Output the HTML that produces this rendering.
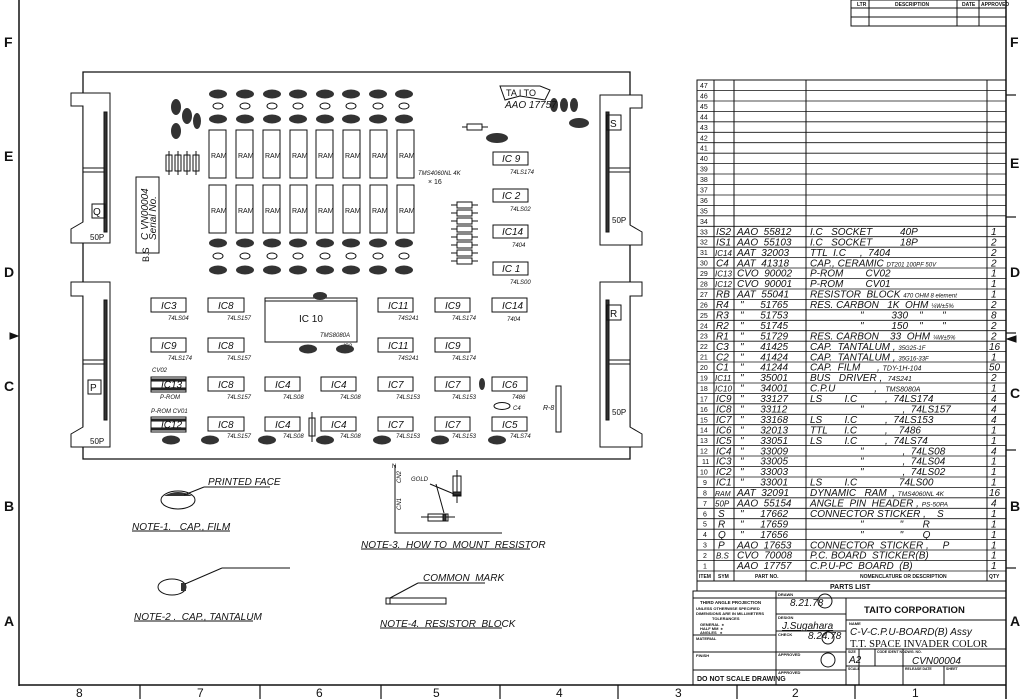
<!DOCTYPE html>
<html><head><meta charset="utf-8"><style>
html,body{margin:0;padding:0;background:#fff;}
svg{display:block;}
text{font-family:"Liberation Sans",sans-serif;fill:#111;white-space:pre;}
.h{font-style:italic;font-size:10px;}
.s{font-size:6px;font-style:italic;}
.b{font-weight:bold;}
</style></head><body>
<svg width="1024" height="699" viewBox="0 0 1024 699" xmlns="http://www.w3.org/2000/svg" stroke="#111" fill="none" stroke-width="1">
<line x1="19" y1="0" x2="19" y2="686" stroke-width="1.5"/>
<line x1="1006" y1="0" x2="1006" y2="699" stroke-width="1.5"/>
<line x1="19" y1="685" x2="1006" y2="685" stroke-width="1.5"/>
<g stroke="none">
<text x="4" y="47" class="b" font-size="14">F</text>
<text x="4" y="161" class="b" font-size="14">E</text>
<text x="4" y="277" class="b" font-size="14">D</text>
<text x="4" y="391" class="b" font-size="14">C</text>
<text x="4" y="511" class="b" font-size="14">B</text>
<text x="4" y="626" class="b" font-size="14">A</text>
<text x="1010" y="47" class="b" font-size="14">F</text>
<text x="1010" y="168" class="b" font-size="14">E</text>
<text x="1010" y="277" class="b" font-size="14">D</text>
<text x="1010" y="398" class="b" font-size="14">C</text>
<text x="1010" y="511" class="b" font-size="14">B</text>
<text x="1010" y="626" class="b" font-size="14">A</text>
<text x="76" y="697" font-size="12">8</text>
<text x="197" y="697" font-size="12">7</text>
<text x="316" y="697" font-size="12">6</text>
<text x="433" y="697" font-size="12">5</text>
<text x="556" y="697" font-size="12">4</text>
<text x="675" y="697" font-size="12">3</text>
<text x="792" y="697" font-size="12">2</text>
<text x="912" y="697" font-size="12">1</text>
</g>
<g stroke-width="1.2">
<line x1="140" y1="685" x2="140" y2="699"/><line x1="260" y1="685" x2="260" y2="699"/><line x1="381" y1="685" x2="381" y2="699"/><line x1="500" y1="685" x2="500" y2="699"/><line x1="618" y1="685" x2="618" y2="699"/><line x1="737" y1="685" x2="737" y2="699"/><line x1="855" y1="685" x2="855" y2="699"/>
<line x1="1006" y1="95" x2="1016" y2="95"/><line x1="1006" y1="217" x2="1016" y2="217"/><line x1="1006" y1="333" x2="1016" y2="333"/><line x1="1006" y1="450" x2="1016" y2="450"/><line x1="1006" y1="568" x2="1016" y2="568"/>
</g>
<path d="M10 333 L18 336 L10 339 Z" fill="#111"/>
<path d="M1016 336 L1007 339 L1016 342 Z" fill="#111"/>
<rect x="851" y="0" width="155" height="26"/>
<line x1="851" y1="8" x2="1006" y2="8"/><line x1="851" y1="17" x2="1006" y2="17"/>
<line x1="869" y1="0" x2="869" y2="26"/><line x1="957" y1="0" x2="957" y2="26"/><line x1="979" y1="0" x2="979" y2="26"/>
<g stroke="none" font-size="5" class="b"><text x="857" y="6">LTR</text><text x="895" y="6">DESCRIPTION</text><text x="962" y="6">DATE</text><text x="981" y="6">APPROVED</text></g>

<path d="M83 72 L630 72 L630 459 L83 459 Z" stroke-width="1.3"/>
<g fill="#fff">
<path d="M71 93 L110 93 L110 243 L71 243 L71 229 L83 222 L83 106 L71 106 Z"/>
<path d="M71 282 L110 282 L110 447 L71 447 L71 434 L83 427 L83 296 L71 296 Z"/>
<path d="M642 95 L600 95 L600 245 L642 245 L642 232 L630 225 L630 108 L642 108 Z"/>
<path d="M642 282 L600 282 L600 447 L642 447 L642 434 L630 427 L630 296 L642 296 Z"/>
</g>
<rect x="104" y="112" width="3" height="120" fill="#333"/><rect x="104" y="300" width="3" height="120" fill="#333"/>
<rect x="606" y="112" width="3" height="120" fill="#333"/><rect x="606" y="300" width="3" height="120" fill="#333"/>
<line x1="83" y1="168" x2="104" y2="168"/><line x1="83" y1="172" x2="104" y2="172"/>
<line x1="83" y1="360" x2="104" y2="360"/><line x1="83" y1="364" x2="104" y2="364"/>
<line x1="609" y1="168" x2="630" y2="168"/><line x1="609" y1="172" x2="630" y2="172"/>
<line x1="609" y1="360" x2="630" y2="360"/><line x1="609" y1="364" x2="630" y2="364"/>
<rect x="92" y="204" width="13" height="14"/><rect x="88" y="380" width="13" height="14"/>
<rect x="607" y="115" width="14" height="15"/><rect x="607" y="305" width="14" height="15"/>
<g stroke="none" font-size="10"><text x="93" y="215">Q</text><text x="90" y="391">P</text><text x="610" y="127">S</text><text x="610" y="317">R</text>
<text x="90" y="240" font-size="8">50P</text><text x="90" y="444" font-size="8">50P</text><text x="612" y="223" font-size="8">50P</text><text x="612" y="415" font-size="8">50P</text></g>

<rect x="136" y="177" width="23" height="76"/>
<g stroke="none"><text transform="translate(148 240) rotate(-90)" class="h" font-size="8">C VN00004</text>
<text transform="translate(156 240) rotate(-90)" class="h" font-size="7">Serial No.</text>
<text transform="translate(149 262) rotate(-90)" font-size="9">B.S</text></g>
<g><rect x="166" y="155" width="6" height="16"/><rect x="175" y="155" width="6" height="16"/><rect x="184" y="155" width="6" height="16"/><rect x="193" y="155" width="6" height="16"/>
<line x1="169" y1="151" x2="169" y2="175"/><line x1="178" y1="151" x2="178" y2="175"/><line x1="187" y1="151" x2="187" y2="175"/><line x1="196" y1="151" x2="196" y2="175"/></g>
<g fill="#333" stroke="none">
<ellipse cx="176" cy="107" rx="5" ry="8"/><ellipse cx="187" cy="116" rx="5" ry="8"/><ellipse cx="197" cy="121" rx="4" ry="8"/><ellipse cx="176" cy="131" rx="5" ry="8"/>
<ellipse cx="554" cy="105" rx="4" ry="7"/><ellipse cx="564" cy="105" rx="4" ry="7"/><ellipse cx="574" cy="105" rx="4" ry="7"/>
<ellipse cx="579" cy="123" rx="10" ry="5"/><ellipse cx="497" cy="138" rx="11" ry="5"/>
</g>
<g fill="#fff">
<rect x="209" y="130" width="17" height="48"/><rect x="236" y="130" width="17" height="48"/><rect x="263" y="130" width="17" height="48"/><rect x="290" y="130" width="17" height="48"/><rect x="316" y="130" width="17" height="48"/><rect x="343" y="130" width="17" height="48"/><rect x="370" y="130" width="17" height="48"/><rect x="397" y="130" width="17" height="48"/>
<rect x="209" y="185" width="17" height="48"/><rect x="236" y="185" width="17" height="48"/><rect x="263" y="185" width="17" height="48"/><rect x="290" y="185" width="17" height="48"/><rect x="316" y="185" width="17" height="48"/><rect x="343" y="185" width="17" height="48"/><rect x="370" y="185" width="17" height="48"/><rect x="397" y="185" width="17" height="48"/>
</g>
<g stroke="none" font-size="7"><text x="211" y="158">RAM</text><text x="238" y="158">RAM</text><text x="265" y="158">RAM</text><text x="292" y="158">RAM</text><text x="318" y="158">RAM</text><text x="345" y="158">RAM</text><text x="372" y="158">RAM</text><text x="399" y="158">RAM</text>
<text x="211" y="213">RAM</text><text x="238" y="213">RAM</text><text x="265" y="213">RAM</text><text x="292" y="213">RAM</text><text x="318" y="213">RAM</text><text x="345" y="213">RAM</text><text x="372" y="213">RAM</text><text x="399" y="213">RAM</text>
<text x="418" y="175" class="s" font-size="7">TMS4060NL 4K</text><text x="428" y="184" font-size="7">× 16</text></g>
<g fill="#333" stroke="none">
<ellipse cx="218" cy="94" rx="9" ry="4.5"/><ellipse cx="245" cy="94" rx="9" ry="4.5"/><ellipse cx="272" cy="94" rx="9" ry="4.5"/><ellipse cx="298" cy="94" rx="9" ry="4.5"/><ellipse cx="325" cy="94" rx="9" ry="4.5"/><ellipse cx="351" cy="94" rx="9" ry="4.5"/><ellipse cx="378" cy="94" rx="9" ry="4.5"/><ellipse cx="404" cy="94" rx="9" ry="4.5"/>
<ellipse cx="218" cy="119" rx="9" ry="4.5"/><ellipse cx="245" cy="119" rx="9" ry="4.5"/><ellipse cx="272" cy="119" rx="9" ry="4.5"/><ellipse cx="298" cy="119" rx="9" ry="4.5"/><ellipse cx="325" cy="119" rx="9" ry="4.5"/><ellipse cx="351" cy="119" rx="9" ry="4.5"/><ellipse cx="378" cy="119" rx="9" ry="4.5"/><ellipse cx="404" cy="119" rx="9" ry="4.5"/>
<ellipse cx="218" cy="243" rx="9" ry="4.5"/><ellipse cx="245" cy="243" rx="9" ry="4.5"/><ellipse cx="272" cy="243" rx="9" ry="4.5"/><ellipse cx="298" cy="243" rx="9" ry="4.5"/><ellipse cx="325" cy="243" rx="9" ry="4.5"/><ellipse cx="351" cy="243" rx="9" ry="4.5"/><ellipse cx="378" cy="243" rx="9" ry="4.5"/><ellipse cx="404" cy="243" rx="9" ry="4.5"/>
<ellipse cx="218" cy="270" rx="9" ry="4.5"/><ellipse cx="245" cy="270" rx="9" ry="4.5"/><ellipse cx="272" cy="270" rx="9" ry="4.5"/><ellipse cx="298" cy="270" rx="9" ry="4.5"/><ellipse cx="325" cy="270" rx="9" ry="4.5"/><ellipse cx="351" cy="270" rx="9" ry="4.5"/><ellipse cx="378" cy="270" rx="9" ry="4.5"/><ellipse cx="404" cy="270" rx="9" ry="4.5"/>
</g>
<g>
<ellipse cx="218" cy="106" rx="5" ry="3"/><ellipse cx="245" cy="106" rx="5" ry="3"/><ellipse cx="272" cy="106" rx="5" ry="3"/><ellipse cx="298" cy="106" rx="5" ry="3"/><ellipse cx="325" cy="106" rx="5" ry="3"/><ellipse cx="351" cy="106" rx="5" ry="3"/><ellipse cx="378" cy="106" rx="5" ry="3"/><ellipse cx="404" cy="106" rx="5" ry="3"/>
<ellipse cx="218" cy="256" rx="5" ry="3"/><ellipse cx="245" cy="256" rx="5" ry="3"/><ellipse cx="272" cy="256" rx="5" ry="3"/><ellipse cx="298" cy="256" rx="5" ry="3"/><ellipse cx="325" cy="256" rx="5" ry="3"/><ellipse cx="351" cy="256" rx="5" ry="3"/><ellipse cx="378" cy="256" rx="5" ry="3"/><ellipse cx="404" cy="256" rx="5" ry="3"/>
</g>
<path d="M500 86 L540 86 L550 90 L545 100 L520 96 L505 100 Z"/>
<g stroke="none"><text x="506" y="96" font-size="9">TA I TO</text><text x="505" y="108" class="h" font-size="8">AAO 17757</text></g>
<line x1="462" y1="127" x2="488" y2="127"/><rect x="467" y="124" width="15" height="6" fill="#fff"/>
<g>
<line x1="451" y1="205" x2="478" y2="205"/><line x1="451" y1="213" x2="478" y2="213"/><line x1="451" y1="221" x2="478" y2="221"/><line x1="451" y1="229" x2="478" y2="229"/><line x1="451" y1="237" x2="478" y2="237"/><line x1="451" y1="245" x2="478" y2="245"/><line x1="451" y1="253" x2="478" y2="253"/><line x1="451" y1="261" x2="478" y2="261"/>
<g fill="#fff"><rect x="457" y="202" width="15" height="6"/><rect x="457" y="210" width="15" height="6"/><rect x="457" y="218" width="15" height="6"/><rect x="457" y="226" width="15" height="6"/><rect x="457" y="234" width="15" height="6"/><rect x="457" y="242" width="15" height="6"/><rect x="457" y="250" width="15" height="6"/><rect x="457" y="258" width="15" height="6"/></g>
</g>
<g fill="#fff"><rect x="493" y="152" width="35" height="13"/><rect x="493" y="189" width="35" height="13"/><rect x="493" y="225" width="35" height="13"/><rect x="493" y="262" width="35" height="13"/></g>
<g stroke="none" font-size="9" class="h"><text x="502" y="162">IC 9</text><text x="502" y="199">IC 2</text><text x="502" y="235">IC14</text><text x="502" y="272">IC 1</text>
<text x="510" y="174" class="s">74LS174</text><text x="510" y="211" class="s">74LS02</text><text x="512" y="247" class="s">7404</text><text x="510" y="284" class="s">74LS00</text></g>

<g fill="#fff">
<rect x="151" y="298" width="35" height="14"/><rect x="208" y="298" width="36" height="14"/><rect x="265" y="298" width="92" height="44"/><rect x="378" y="298" width="35" height="14"/><rect x="435" y="298" width="35" height="14"/><rect x="492" y="298" width="35" height="14"/>
<rect x="151" y="338" width="35" height="14"/><rect x="208" y="338" width="36" height="14"/><rect x="378" y="338" width="35" height="14"/><rect x="435" y="338" width="35" height="14"/>
<rect x="151" y="377" width="35" height="15"/><rect x="208" y="377" width="36" height="14"/><rect x="265" y="377" width="35" height="14"/><rect x="321" y="377" width="35" height="14"/><rect x="378" y="377" width="35" height="14"/><rect x="435" y="377" width="35" height="14"/><rect x="492" y="377" width="35" height="14"/>
<rect x="151" y="417" width="35" height="15"/><rect x="208" y="417" width="36" height="14"/><rect x="265" y="417" width="35" height="14"/><rect x="321" y="417" width="35" height="14"/><rect x="378" y="417" width="35" height="14"/><rect x="435" y="417" width="35" height="14"/><rect x="492" y="417" width="35" height="14"/>
</g>
<line x1="265" y1="301" x2="357" y2="301"/>
<rect x="151" y="379" width="35" height="2" fill="#333"/><rect x="151" y="388" width="35" height="2" fill="#333"/>
<rect x="151" y="419" width="35" height="2" fill="#333"/><rect x="151" y="428" width="35" height="2" fill="#333"/>
<g stroke="none" font-size="9" class="h">
<text x="161" y="309">IC3</text><text x="218" y="309">IC8</text><text x="299" y="322" font-style="normal">IC 10</text><text x="388" y="309">IC11</text><text x="445" y="309">IC9</text><text x="502" y="309">IC14</text>
<text x="161" y="349">IC9</text><text x="218" y="349">IC8</text><text x="388" y="349">IC11</text><text x="445" y="349">IC9</text>
<text x="161" y="388">IC13</text><text x="218" y="388">IC8</text><text x="275" y="388">IC4</text><text x="331" y="388">IC4</text><text x="388" y="388">IC7</text><text x="445" y="388">IC7</text><text x="502" y="388">IC6</text>
<text x="161" y="428">IC12</text><text x="218" y="428">IC8</text><text x="275" y="428">IC4</text><text x="331" y="428">IC4</text><text x="388" y="428">IC7</text><text x="445" y="428">IC7</text><text x="502" y="428">IC5</text>
</g>
<g stroke="none" class="s">
<text x="168" y="320">74LS04</text><text x="227" y="320">74LS157</text><text x="320" y="337">TMS8080A</text><text x="398" y="320">74S241</text><text x="452" y="320">74LS174</text><text x="507" y="321">7404</text>
<text x="168" y="360">74LS174</text><text x="227" y="360">74LS157</text><text x="398" y="360">74S241</text><text x="452" y="360">74LS174</text>
<text x="160" y="399">P-ROM</text><text x="227" y="399">74LS157</text><text x="283" y="399">74LS08</text><text x="340" y="399">74LS08</text><text x="396" y="399">74LS153</text><text x="452" y="399">74LS153</text><text x="512" y="399">7486</text>
<text x="227" y="438">74LS157</text><text x="283" y="438">74LS08</text><text x="340" y="438">74LS08</text><text x="396" y="438">74LS153</text><text x="452" y="438">74LS153</text><text x="510" y="438">74LS74</text>
<text x="152" y="372">CV02</text><text x="151" y="413">P-ROM CV01</text><text x="343" y="348">IS2</text><text x="543" y="410" font-size="7">R-8</text><text x="513" y="410">C4</text>
</g>
<g fill="#333" stroke="none">
<ellipse cx="320" cy="296" rx="7" ry="4"/>
<ellipse cx="308" cy="349" rx="9" ry="4.5"/><ellipse cx="345" cy="349" rx="9" ry="4.5"/>
<ellipse cx="171" cy="440" rx="9" ry="4.5"/><ellipse cx="210" cy="440" rx="9" ry="4.5"/><ellipse cx="267" cy="440" rx="9" ry="4.5"/><ellipse cx="325" cy="440" rx="9" ry="4.5"/><ellipse cx="382" cy="440" rx="9" ry="4.5"/><ellipse cx="440" cy="440" rx="9" ry="4.5"/><ellipse cx="497" cy="440" rx="9" ry="4.5"/>
<ellipse cx="482" cy="384" rx="3" ry="6"/>
</g>
<ellipse cx="502" cy="406" rx="8" ry="3.5"/>
<rect x="556" y="386" width="5" height="46"/>
<rect x="309" y="418" width="6" height="18"/><line x1="312" y1="412" x2="312" y2="442"/>
<text x="392" y="468" stroke="none" font-size="6">N</text>

<ellipse cx="178" cy="500" rx="17" ry="9"/>
<path d="M164 496 Q178 488 192 496 Z" fill="#333" stroke="none"/>
<line x1="184" y1="495" x2="204" y2="487"/><line x1="204" y1="487" x2="270" y2="487"/>
<g stroke="none" class="h" font-size="7"><text x="208" y="485">PRINTED FACE</text></g>
<line x1="132" y1="531" x2="230" y2="531"/>
<text x="132" y="530" stroke="none" class="h" font-size="8">NOTE-1.   CAP., FILM</text>
<ellipse cx="172" cy="587" rx="14" ry="8"/><rect x="181" y="583" width="5" height="8" fill="#333" stroke="none"/>
<line x1="185" y1="584" x2="222" y2="568"/><line x1="222" y1="568" x2="290" y2="568"/>
<line x1="134" y1="621" x2="253" y2="621"/>
<text x="134" y="620" stroke="none" class="h" font-size="8">NOTE-2 .  CAP., TANTALUM</text>
<polyline points="395,465 395,533 502,533"/>
<g stroke="none" class="s"><text transform="translate(401 483) rotate(-90)">CN2</text><text transform="translate(401 510) rotate(-90)">CN1</text><text x="411" y="481">GOLD</text></g>
<rect x="453" y="476" width="8" height="20"/><line x1="457" y1="470" x2="457" y2="503"/><rect x="453" y="492" width="8" height="3" fill="#333"/>
<rect x="428" y="514" width="20" height="7"/><line x1="421" y1="517" x2="455" y2="517"/><rect x="443" y="514" width="3" height="7" fill="#333"/>
<line x1="430" y1="484" x2="454" y2="494"/><line x1="436" y1="484" x2="444" y2="513"/>
<line x1="361" y1="549" x2="530" y2="549"/>
<text x="361" y="548" stroke="none" class="h" font-size="8">NOTE-3.  HOW TO  MOUNT  RESISTOR</text>
<rect x="386" y="598" width="60" height="6"/><line x1="390" y1="598" x2="390" y2="604"/>
<line x1="390" y1="598" x2="418" y2="583"/><line x1="418" y1="583" x2="485" y2="583"/>
<text x="423" y="581" stroke="none" class="h" font-size="7">COMMON  MARK</text>
<line x1="380" y1="628" x2="502" y2="628"/>
<text x="380" y="627" stroke="none" class="h" font-size="8">NOTE-4.  RESISTOR  BLOCK</text>

<rect x="697" y="80" width="309" height="511"/>
<line x1="714" y1="80" x2="714" y2="581"/><line x1="734" y1="80" x2="734" y2="581"/><line x1="806" y1="80" x2="806" y2="581"/><line x1="987" y1="80" x2="987" y2="581"/>
<g stroke-width="0.8">
<line x1="697" y1="90.5" x2="1006" y2="90.5"/><line x1="697" y1="101" x2="1006" y2="101"/><line x1="697" y1="111.4" x2="1006" y2="111.4"/><line x1="697" y1="121.8" x2="1006" y2="121.8"/><line x1="697" y1="132.3" x2="1006" y2="132.3"/><line x1="697" y1="142.7" x2="1006" y2="142.7"/><line x1="697" y1="153.2" x2="1006" y2="153.2"/><line x1="697" y1="163.6" x2="1006" y2="163.6"/><line x1="697" y1="174" x2="1006" y2="174"/><line x1="697" y1="184.5" x2="1006" y2="184.5"/><line x1="697" y1="195" x2="1006" y2="195"/><line x1="697" y1="205.4" x2="1006" y2="205.4"/><line x1="697" y1="215.8" x2="1006" y2="215.8"/><line x1="697" y1="226.3" x2="1006" y2="226.3"/><line x1="697" y1="236.7" x2="1006" y2="236.7"/><line x1="697" y1="247.2" x2="1006" y2="247.2"/><line x1="697" y1="257.6" x2="1006" y2="257.6"/><line x1="697" y1="268" x2="1006" y2="268"/><line x1="697" y1="278.5" x2="1006" y2="278.5"/><line x1="697" y1="289" x2="1006" y2="289"/><line x1="697" y1="299.4" x2="1006" y2="299.4"/><line x1="697" y1="309.8" x2="1006" y2="309.8"/><line x1="697" y1="320.3" x2="1006" y2="320.3"/><line x1="697" y1="330.7" x2="1006" y2="330.7"/><line x1="697" y1="341.2" x2="1006" y2="341.2"/><line x1="697" y1="351.6" x2="1006" y2="351.6"/><line x1="697" y1="362" x2="1006" y2="362"/><line x1="697" y1="372.5" x2="1006" y2="372.5"/><line x1="697" y1="383" x2="1006" y2="383"/><line x1="697" y1="393.4" x2="1006" y2="393.4"/><line x1="697" y1="403.8" x2="1006" y2="403.8"/><line x1="697" y1="414.3" x2="1006" y2="414.3"/><line x1="697" y1="424.7" x2="1006" y2="424.7"/><line x1="697" y1="435.2" x2="1006" y2="435.2"/><line x1="697" y1="445.6" x2="1006" y2="445.6"/><line x1="697" y1="456" x2="1006" y2="456"/><line x1="697" y1="466.5" x2="1006" y2="466.5"/><line x1="697" y1="477" x2="1006" y2="477"/><line x1="697" y1="487.4" x2="1006" y2="487.4"/><line x1="697" y1="497.8" x2="1006" y2="497.8"/><line x1="697" y1="508.3" x2="1006" y2="508.3"/><line x1="697" y1="518.7" x2="1006" y2="518.7"/><line x1="697" y1="529.2" x2="1006" y2="529.2"/><line x1="697" y1="539.6" x2="1006" y2="539.6"/><line x1="697" y1="550" x2="1006" y2="550"/><line x1="697" y1="560.5" x2="1006" y2="560.5"/><line x1="697" y1="571" x2="1006" y2="571"/>
</g>
<line x1="697" y1="581" x2="1006" y2="581"/>
<g stroke="none" font-size="7">
<text x="700" y="88">47</text><text x="700" y="98.5">46</text><text x="700" y="109">45</text><text x="700" y="119.4">44</text><text x="700" y="129.8">43</text><text x="700" y="140.3">42</text><text x="700" y="150.7">41</text><text x="700" y="161.2">40</text><text x="700" y="171.6">39</text><text x="700" y="182">38</text><text x="700" y="192.5">37</text><text x="700" y="203">36</text><text x="700" y="213.4">35</text><text x="700" y="223.8">34</text>
<text x="700" y="234.3">33</text><text x="700" y="244.7">32</text><text x="700" y="255.2">31</text><text x="700" y="265.6">30</text><text x="700" y="276">29</text><text x="700" y="286.5">28</text><text x="700" y="297">27</text><text x="700" y="307.4">26</text><text x="700" y="317.8">25</text><text x="700" y="328.3">24</text><text x="700" y="338.7">23</text><text x="700" y="349.2">22</text><text x="700" y="359.6">21</text><text x="700" y="370">20</text><text x="700" y="380.5">19</text><text x="700" y="391">18</text><text x="700" y="401.4">17</text><text x="700" y="411.8">16</text><text x="700" y="422.3">15</text><text x="700" y="432.7">14</text><text x="700" y="443.2">13</text><text x="700" y="453.6">12</text><text x="702" y="464">11</text><text x="700" y="474.5">10</text><text x="703" y="485">9</text><text x="703" y="495.4">8</text><text x="703" y="505.8">7</text><text x="703" y="516.3">6</text><text x="703" y="526.7">5</text><text x="703" y="537.2">4</text><text x="703" y="547.6">3</text><text x="703" y="558">2</text><text x="703" y="568.5">1</text>
</g>
<g stroke="none" class="h" font-size="9.5">
<text x="716" y="235">IS2</text><text x="737" y="235">AAO  55812</text><text x="810" y="235">I.C   SOCKET          40P</text><text x="991" y="235">1</text>
<text x="716" y="245.4">IS1</text><text x="737" y="245.4">AAO  55103</text><text x="810" y="245.4">I.C   SOCKET          18P</text><text x="991" y="245.4">2</text>
<text x="715" y="255.9" font-size="8">IC14</text><text x="737" y="255.9">AAT  32003</text><text x="810" y="255.9">TTL  I.C     ,  7404</text><text x="991" y="255.9">2</text>
<text x="716" y="266.3">C4</text><text x="737" y="266.3">AAT  41318</text><text x="810" y="266.3">CAP., CERAMIC <tspan font-size="6">DT201 100PF 50V</tspan></text><text x="991" y="266.3">2</text>
<text x="715" y="276.7" font-size="8">IC13</text><text x="737" y="276.7">CVO  90002</text><text x="810" y="276.7">P-ROM        CV02</text><text x="991" y="276.7">1</text>
<text x="715" y="287.2" font-size="8">IC12</text><text x="737" y="287.2">CVO  90001</text><text x="810" y="287.2">P-ROM        CV01</text><text x="991" y="287.2">1</text>
<text x="716" y="297.7">RB</text><text x="737" y="297.7">AAT  55041</text><text x="810" y="297.7">RESISTOR  BLOCK <tspan font-size="6">470 OHM 8 element</tspan></text><text x="991" y="297.7">1</text>
<text x="716" y="308.1">R4</text><text x="740" y="308.1">"      51765</text><text x="810" y="308.1">RES. CARBON   1K  OHM <tspan font-size="6">¼W±5%</tspan></text><text x="991" y="308.1">2</text>
<text x="716" y="318.5">R3</text><text x="740" y="318.5">"      51753</text><text x="860" y="318.5">"          330    "       "</text><text x="991" y="318.5">8</text>
<text x="716" y="329">R2</text><text x="740" y="329">"      51745</text><text x="860" y="329">"          150    "       "</text><text x="991" y="329">2</text>
<text x="716" y="339.4">R1</text><text x="740" y="339.4">"      51729</text><text x="810" y="339.4">RES. CARBON    33  OHM <tspan font-size="6">¼W±5%</tspan></text><text x="991" y="339.4">2</text>
<text x="716" y="349.9">C3</text><text x="740" y="349.9">"      41425</text><text x="810" y="349.9">CAP.  TANTALUM , <tspan font-size="6">35G25-1F</tspan></text><text x="989" y="349.9">16</text>
<text x="716" y="360.3">C2</text><text x="740" y="360.3">"      41424</text><text x="810" y="360.3">CAP.  TANTALUM , <tspan font-size="6">35G16-33F</tspan></text><text x="991" y="360.3">1</text>
<text x="716" y="370.7">C1</text><text x="740" y="370.7">"      41244</text><text x="810" y="370.7">CAP.  FILM      , <tspan font-size="7">TDY-1H-104</tspan></text><text x="989" y="370.7">50</text>
<text x="715" y="381.2" font-size="8">IC11</text><text x="740" y="381.2">"      35001</text><text x="810" y="381.2">BUS   DRIVER ,  <tspan font-size="7">74S241</tspan></text><text x="991" y="381.2">2</text>
<text x="715" y="391.7" font-size="8">IC10</text><text x="740" y="391.7">"      34001</text><text x="810" y="391.7">C.P.U              ,   <tspan font-size="7">TMS8080A</tspan></text><text x="991" y="391.7">1</text>
<text x="716" y="402.1">IC9</text><text x="740" y="402.1">"      33127</text><text x="810" y="402.1">LS        I.C          ,  74LS174</text><text x="991" y="402.1">4</text>
<text x="716" y="412.5">IC8</text><text x="740" y="412.5">"      33112</text><text x="860" y="412.5">"              ,  74LS157</text><text x="991" y="412.5">4</text>
<text x="716" y="423">IC7</text><text x="740" y="423">"      33168</text><text x="810" y="423">LS        I.C          ,  74LS153</text><text x="991" y="423">4</text>
<text x="716" y="433.4">IC6</text><text x="740" y="433.4">"      32013</text><text x="810" y="433.4">TTL      I.C          ,    7486</text><text x="991" y="433.4">1</text>
<text x="716" y="443.9">IC5</text><text x="740" y="443.9">"      33051</text><text x="810" y="443.9">LS        I.C          ,  74LS74</text><text x="991" y="443.9">1</text>
<text x="716" y="454.3">IC4</text><text x="740" y="454.3">"      33009</text><text x="860" y="454.3">"              ,  74LS08</text><text x="991" y="454.3">4</text>
<text x="716" y="464.7">IC3</text><text x="740" y="464.7">"      33005</text><text x="860" y="464.7">"              ,  74LS04</text><text x="991" y="464.7">1</text>
<text x="716" y="475.2">IC2</text><text x="740" y="475.2">"      33003</text><text x="860" y="475.2">"              ,  74LS02</text><text x="991" y="475.2">1</text>
<text x="716" y="485.7">IC1</text><text x="740" y="485.7">"      33001</text><text x="810" y="485.7">LS        I.C               74LS00</text><text x="991" y="485.7">1</text>
<text x="715" y="496.1" font-size="7">RAM</text><text x="737" y="496.1">AAT  32091</text><text x="810" y="496.1">DYNAMIC   RAM  , <tspan font-size="6.5">TMS4060NL 4K</tspan></text><text x="989" y="496.1">16</text>
<text x="715" y="506.5" font-size="8">50P</text><text x="737" y="506.5">AAO  55154</text><text x="810" y="506.5">ANGLE  PIN  HEADER , <tspan font-size="6.5">PS-50PA</tspan></text><text x="991" y="506.5">4</text>
<text x="718" y="517">S</text><text x="740" y="517">"      17662</text><text x="810" y="517">CONNECTOR STICKER ,    S</text><text x="991" y="517">1</text>
<text x="718" y="527.4">R</text><text x="740" y="527.4">"      17659</text><text x="860" y="527.4">"             "       R</text><text x="991" y="527.4">1</text>
<text x="718" y="537.9">Q</text><text x="740" y="537.9">"      17656</text><text x="860" y="537.9">"             "       Q</text><text x="991" y="537.9">1</text>
<text x="718" y="548.3">P</text><text x="737" y="548.3">AAO  17653</text><text x="810" y="548.3">CONNECTOR  STICKER ,     P</text><text x="991" y="548.3">1</text>
<text x="716" y="558.7" font-size="8">B.S</text><text x="737" y="558.7">CVO  70008</text><text x="810" y="558.7">P.C. BOARD  STICKER(B)</text><text x="991" y="558.7">1</text>
<text x="737" y="569.2">AAO  17757</text><text x="810" y="569.2">C.P.U-PC  BOARD  (B)</text><text x="991" y="569.2">1</text>
</g>
<g stroke="none" font-size="5" class="b"><text x="699" y="578">ITEM</text><text x="718" y="578">SYM</text><text x="755" y="578">PART NO.</text><text x="860" y="578">NOMENCLATURE OR DESCRIPTION</text><text x="989" y="578">QTY</text>
<text x="830" y="589" font-size="7">PARTS LIST</text></g>

<rect x="693" y="591" width="313" height="94"/>
<line x1="776" y1="591" x2="776" y2="685"/><line x1="846" y1="598" x2="846" y2="685"/>
<line x1="693" y1="598" x2="1006" y2="598"/>
<line x1="846" y1="620" x2="1006" y2="620"/>
<line x1="846" y1="649" x2="1006" y2="649"/>
<line x1="846" y1="666" x2="1006" y2="666"/>
<line x1="859" y1="649" x2="859" y2="685"/><line x1="875" y1="649" x2="875" y2="666"/><line x1="903" y1="649" x2="903" y2="666"/><line x1="903" y1="666" x2="903" y2="685"/><line x1="944" y1="666" x2="944" y2="685"/>
<line x1="776" y1="614" x2="846" y2="614"/><line x1="776" y1="631" x2="846" y2="631"/><line x1="776" y1="652" x2="846" y2="652"/><line x1="776" y1="670" x2="846" y2="670"/>
<line x1="693" y1="635" x2="776" y2="635"/><line x1="693" y1="652" x2="776" y2="652"/><line x1="693" y1="670" x2="776" y2="670"/>
<g stroke="none">
<text x="700" y="604" font-size="4.5" class="b">THIRD ANGLE PROJECTION</text>
<text x="696" y="610" font-size="4" class="b">UNLESS OTHERWISE SPECIFIED</text>
<text x="696" y="615" font-size="4" class="b">DIMENSIONS ARE IN MILLIMETERS</text>
<text x="712" y="620" font-size="4" class="b">TOLERANCES</text>
<text x="700" y="626" font-size="4" class="b">GENERAL  ±</text><text x="700" y="630" font-size="4" class="b">HALF MM  ±</text><text x="700" y="634" font-size="4" class="b">ANGLES   ±</text>
<text x="696" y="640" font-size="4" class="b">MATERIAL</text><text x="696" y="657" font-size="4" class="b">FINISH</text>
<text x="697" y="681" font-size="7" class="b">DO NOT SCALE DRAWING</text>
<text x="778" y="596" font-size="4" class="b">DRAWN</text><text x="790" y="606" class="h" font-size="12">8.21.78</text>
<text x="778" y="619" font-size="4" class="b">DESIGN</text><text x="782" y="629" class="h" font-size="11" text-decoration="underline">J.Sugahara</text>
<text x="778" y="636" font-size="4" class="b">CHECK</text><text x="808" y="639" class="h" font-size="7">8.24.78</text>
<text x="778" y="656" font-size="4" class="b">APPROVED</text><text x="778" y="674" font-size="4" class="b">APPROVED</text>
<text x="864" y="613" font-size="9.5" class="b">TAITO CORPORATION</text>
<text x="849" y="625" font-size="4" class="b">NAME</text>
<text x="850" y="635" class="h" font-size="11">C-V-C.P.U-BOARD(B) Assy</text>
<line x1="849" y1="637" x2="990" y2="637"/>
<text x="850" y="647" font-size="10.5" style="font-family:'Liberation Serif',serif">T.T. SPACE INVADER COLOR</text>
<text x="848" y="653" font-size="3.5" class="b">SIZE</text><text x="849" y="663" class="h" font-size="9">A2</text>
<text x="877" y="653" font-size="3.5" class="b">CODE IDENT NO.</text>
<text x="905" y="653" font-size="3.5" class="b">DWG. NO.</text><text x="912" y="664" class="h" font-size="14">CVN00004</text>
<text x="848" y="670" font-size="3.5" class="b">SCALE</text><text x="905" y="670" font-size="3.5" class="b">RELEASE DATE</text><text x="946" y="670" font-size="3.5" class="b">SHEET</text>
</g>
<circle cx="825" cy="601" r="7"/><circle cx="828" cy="638" r="6"/><circle cx="828" cy="660" r="7"/>
</svg>
</body></html>
